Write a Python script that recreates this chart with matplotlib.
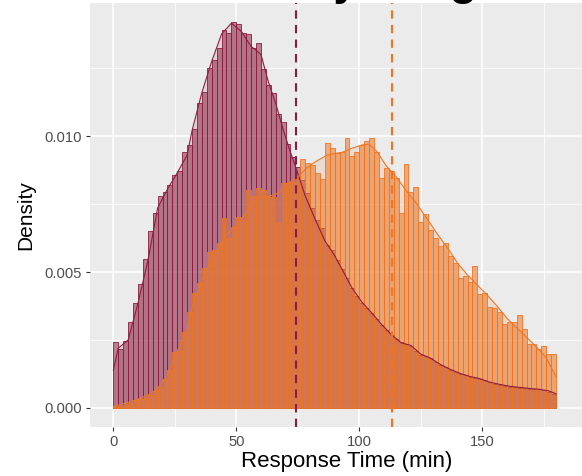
import numpy as np
import matplotlib
matplotlib.use("Agg")
import matplotlib.pyplot as plt
from matplotlib.colors import to_rgba

plt.rcParams["font.family"] = ["Liberation Sans", "DejaVu Sans"]

# ---------- data ----------
BIN_W = 2
bin_left = np.arange(0, 180, BIN_W)

# group A (maroon) histogram density per 2-min bin
hist_a = [
    0.00241, 0.00216, 0.00246, 0.00315, 0.00385, 0.00456, 0.00548, 0.00652, 0.00716, 0.00779,
    0.00793, 0.00821, 0.00857, 0.00872, 0.00940, 0.00967, 0.01025, 0.01120, 0.01163, 0.01251,
    0.01279, 0.01322, 0.01390, 0.01380, 0.01420, 0.01412, 0.01380, 0.01377, 0.01322, 0.01343,
    0.01245, 0.01188, 0.01160, 0.01081, 0.01053, 0.00971, 0.00922, 0.00887, 0.00838, 0.00789,
    0.00734, 0.00691, 0.00661, 0.00599, 0.00581, 0.00545, 0.00510, 0.00478, 0.00442, 0.00412,
    0.00387, 0.00368, 0.00349, 0.00326, 0.00306, 0.00288, 0.00270, 0.00255, 0.00241, 0.00236,
    0.00228, 0.00210, 0.00196, 0.00190, 0.00182, 0.00168, 0.00157, 0.00150, 0.00140, 0.00133,
    0.00126, 0.00120, 0.00115, 0.00112, 0.00108, 0.00103, 0.00094, 0.00089, 0.00085, 0.00081,
    0.00078, 0.00077, 0.00075, 0.00072, 0.00071, 0.00070, 0.00068, 0.00066, 0.00060, 0.00052,
]

# group B (orange) histogram density per 2-min bin
hist_b = [
    0.00005, 0.00008, 0.00012, 0.00018, 0.00030, 0.00033, 0.00038, 0.00048, 0.00062, 0.00078,
    0.00105, 0.00140, 0.00205, 0.00210, 0.00281, 0.00354, 0.00422, 0.00458, 0.00513, 0.00575,
    0.00581, 0.00605, 0.00697, 0.00624, 0.00667, 0.00703, 0.00691, 0.00801, 0.00780, 0.00810,
    0.00800, 0.00777, 0.00777, 0.00680, 0.00826, 0.00826, 0.00830, 0.00850, 0.00915, 0.00900,
    0.00895, 0.00863, 0.00841, 0.00975, 0.00955, 0.00936, 0.00942, 0.00991, 0.00926, 0.00942,
    0.00967, 0.00983, 0.00991, 0.00940, 0.00844, 0.00881, 0.00873, 0.00844, 0.00718, 0.00897,
    0.00795, 0.00814, 0.00685, 0.00713, 0.00654, 0.00624, 0.00596, 0.00605, 0.00559, 0.00532,
    0.00477, 0.00485, 0.00462, 0.00522, 0.00419, 0.00422, 0.00373, 0.00366, 0.00354, 0.00309,
    0.00317, 0.00317, 0.00341, 0.00289, 0.00235, 0.00235, 0.00216, 0.00228, 0.00199, 0.00199,
]

# smoothed density curves
dens_a_x = [0, 2, 6, 10, 14, 18, 22, 26, 30, 32, 36, 40, 44, 48, 52, 56, 60, 63, 66, 69,
            72, 74, 78, 82, 86, 90, 93, 97, 101, 105, 109, 113, 117, 121, 125, 129, 133,
            137, 141, 145, 149, 153, 157, 161, 165, 169, 173, 177, 180]
dens_a_y = [0.00140, 0.00220, 0.00250, 0.00385, 0.00540, 0.00735, 0.00805, 0.00865, 0.00930,
            0.01020, 0.01160, 0.01275, 0.01375, 0.01415, 0.01385, 0.01330, 0.01300, 0.01200,
            0.01120, 0.01025, 0.00940, 0.00890, 0.00780, 0.00695, 0.00615, 0.00560, 0.00510,
            0.00442, 0.00390, 0.00350, 0.00308, 0.00270, 0.00240, 0.00230, 0.00198, 0.00183,
            0.00160, 0.00142, 0.00127, 0.00116, 0.00108, 0.00095, 0.00087, 0.00080, 0.00076,
            0.00072, 0.00069, 0.00063, 0.00052]

dens_b_x = [0, 5, 10, 15, 18, 22, 26, 30, 32, 36, 40, 45, 49, 53, 57, 60, 63, 67, 71, 75,
            79, 83, 87, 90, 93, 97, 101, 104, 107, 111, 115, 119, 123, 128, 132, 136, 140,
            144, 148, 152, 156, 160, 164, 168, 172, 176, 180]
dens_b_y = [0.00005, 0.00018, 0.00032, 0.00052, 0.00072, 0.00122, 0.00210, 0.00290, 0.00370,
            0.00470, 0.00545, 0.00625, 0.00665, 0.00705, 0.00760, 0.00777, 0.00777, 0.00790,
            0.00826, 0.00850, 0.00886, 0.00910, 0.00930, 0.00936, 0.00940, 0.00955, 0.00967,
            0.00970, 0.00945, 0.00890, 0.00850, 0.00800, 0.00755, 0.00690, 0.00636, 0.00587,
            0.00532, 0.00489, 0.00452, 0.00415, 0.00375, 0.00330, 0.00295, 0.00260, 0.00225,
            0.00185, 0.00115]

mean_a = 74.3
mean_b = 113.5

COL_A = "#8C1D40"
COL_B = "#EE7623"

# ---------- plot ----------
W, H = 582, 476
fig = plt.figure(figsize=(W / 100, H / 100), dpi=100)
# panel runs past the right edge of the (cropped) picture
ax = fig.add_axes([90 / W, 1 - 427 / H, (604 - 90) / W, (427 - 2.5) / H])
ax.set_facecolor("#EBEBEB")

ax.bar(bin_left, hist_a, width=BIN_W, align="edge", facecolor=to_rgba(COL_A, 0.52),
       edgecolor=COL_A, linewidth=0.6, zorder=2)
ax.fill_between(dens_a_x, dens_a_y, color=COL_A, alpha=0.12, lw=0, zorder=2.1)
ax.bar(bin_left, hist_b, width=BIN_W, align="edge", facecolor=to_rgba(COL_B, 0.55),
       edgecolor=COL_B, linewidth=0.6, zorder=3)
ax.fill_between(dens_b_x, dens_b_y, color=COL_B, alpha=0.12, lw=0, zorder=3.1)
ax.plot(dens_a_x, dens_a_y, color=COL_A, lw=0.8, zorder=4)
ax.plot(dens_b_x, dens_b_y, color=COL_B, lw=0.8, zorder=4)

ax.axvline(mean_a, color=COL_A, lw=1.5, ls=(0, (4, 3)), zorder=5)
ax.axvline(mean_b, color=COL_B, lw=1.5, ls=(0, (4, 3)), zorder=5)

ax.set_xlim(-9.5, 199.5)
ax.set_ylim(-0.000699, 0.01491)
ax.set_xticks([0, 50, 100, 150])
ax.set_xticks([25, 75, 125, 175], minor=True)
ax.set_yticks([0, 0.005, 0.010])
ax.set_yticklabels(["0.000", "0.005", "0.010"])
ax.set_yticks([0.0025, 0.0075, 0.0125], minor=True)
ax.grid(which="major", color="white", lw=1.1, zorder=0)
ax.grid(which="minor", color="white", lw=0.55, zorder=0)
ax.set_axisbelow(True)
for s in ax.spines.values():
    s.set_visible(False)
ax.tick_params(which="major", length=3, width=0.8, color="#333333",
               labelcolor="#4D4D4D", labelsize=10.6, pad=3)
ax.tick_params(which="minor", length=0)

ax.set_xlabel("Response Time (min)", fontsize=16, labelpad=1)
ax.set_ylabel("Density", fontsize=15, labelpad=6)

# title is cut off at the top of the picture; only descenders show
fig.text(0.8625, 1 + 5 / H, "Wait Time by Triage", fontsize=32, fontweight="bold",
         ha="right", va="baseline", zorder=10)

fig.savefig("out.png", dpi=100)
